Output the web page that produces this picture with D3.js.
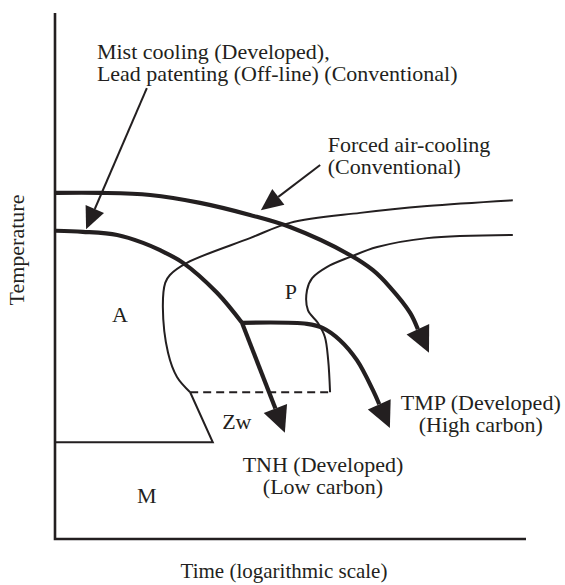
<!DOCTYPE html>
<html>
<head>
<script src="https://d3js.org/d3.v7.min.js"></script>
<style>
	body, html {
		margin: 0;
		padding: 0;
		background: #fff;
	}
	text {
		font-family: "Liberation Serif", "Times New Roman", serif;
		font-size: 22px;
		fill: #231f20;
	}
	.axis-line {
		stroke: #231f20;
		stroke-width: 2.6;
		fill: none;
	}
	.thick {
		stroke: #231f20;
		stroke-width: 4.2;
		fill: none;
	}
	.thin {
		stroke: #231f20;
		stroke-width: 2;
		fill: none;
	}
	.head {
		fill: #231f20;
	}
</style>
</head>
<body>
<script>
	// schematic CCT diagram, both axes in arbitrary units 0..100
	// cooling paths (thick lines) - last point is the arrow tip
	var forcedAir = [[0.2,65.8],[9.6,65.8],[20.2,65.4],[30.8,63.9],[41.4,61.6],[49.9,59.3],
		[62.6,54.0],[67.5,51.1],[71.1,47.9],[75.4,43.0],[79.4,35.4]];
	var mistCooling = [[0.2,58.6],[5.9,58.4],[13.2,57.8],[18.7,56.3],[22.3,54.9],[27.2,52.5],
		[34.4,46.8],[39.7,41.1]];
	var tnhPath = [[39.7,41.1],[48.8,20.2]];
	var tmpPath = [[39.7,41.1],[53.5,40.9],[56.9,40.1],[60.5,37.8],[64.1,34.0],[67.5,28.3],[71.1,21.1]];

	// transformation lines (thin)
	var pearliteStart = [[97.2,64.4],[79.0,63.3],[64.8,62.0],[49.9,60.1],[41.4,57.2],[28.0,52.5],
		[24.4,50.2],[23.4,48.7],[22.9,44.1],[24.0,35.4],[25.9,30.8],[28.7,27.9]];
	var bainiteNose = [[28.7,27.9],[33.5,18.4],[0,18.4]];
	var pearliteEnd = [[97.2,57.8],[79.0,57.2],[68.4,55.5],[62.6,53.6],[57.7,51.7],[54.6,49.6],
		[53.5,47.3],[53.7,43.5],[55.8,41.1],[57.3,38.4],[58.0,34.0],[58.4,27.9]];
	var dashedLine = [[28.7,27.9],[58.4,27.9]];

	// label leaders: [from, to]
	var mistLeader = [[19.5,85.7],[6.6,58.9]];
	var forcedLeader = [[56.3,71.1],[43.7,62.5]];

	// text labels
	var mistLabel = ["Mist cooling (Developed),", "Lead patenting (Off-line) (Conventional)"];
	var forcedLabel = ["Forced air-cooling", "(Conventional)"];
	var tnhLabel = ["TNH (Developed)", "(Low carbon)"];
	var tmpLabel = ["TMP (Developed)", "(High carbon)"];
	var phaseLabels = ["A", "P", "Zw", "M"];
	var xTitle = "Time (logarithmic scale)";
	var yTitle = "Temperature";

	var w = 565, h = 585;
	var margin = {top: 13, right: 39, bottom: 46, left: 55};

	var x = d3.scaleLinear().domain([0, 100]).range([margin.left, w - margin.right]);
	var y = d3.scaleLinear().domain([0, 100]).range([h - margin.bottom, margin.top]);

	var svg = d3.select("body").append("svg")
		.attr("width", w)
		.attr("height", h);

	var smooth = d3.line()
		.x(function(d){ return x(d[0]); })
		.y(function(d){ return y(d[1]); })
		.curve(d3.curveCatmullRom.alpha(0.5));
	var straight = d3.line()
		.x(function(d){ return x(d[0]); })
		.y(function(d){ return y(d[1]); });

	// axes: plain lines, no ticks
	svg.append("path").attr("class", "axis-line")
		.attr("d", straight([[0,100],[0,0],[100,0]]));

	// draw a path whose last point is an arrow tip
	function arrow(pts, cls, gen, len, half){
		var n = pts.length;
		var tx = x(pts[n-1][0]), ty = y(pts[n-1][1]);
		var px = x(pts[n-2][0]), py = y(pts[n-2][1]);
		var dx = tx - px, dy = ty - py, d = Math.sqrt(dx*dx + dy*dy);
		var ux = dx/d, uy = dy/d;
		var bx = tx - ux*len, by = ty - uy*len;
		var trimmed = pts.slice(0, n-1).concat([[x.invert(bx), y.invert(by)]]);
		svg.append("path").attr("class", cls).attr("d", gen(trimmed));
		svg.append("path").attr("class", "head")
			.attr("d", "M" + tx + "," + ty +
				"L" + (bx - uy*half) + "," + (by + ux*half) +
				"L" + (bx + uy*half) + "," + (by - ux*half) + "Z");
	}

	// thin transformation curves
	svg.append("path").attr("class", "thin").attr("d", smooth(pearliteStart));
	svg.append("path").attr("class", "thin").attr("d", straight(bainiteNose));
	svg.append("path").attr("class", "thin").attr("d", smooth(pearliteEnd));
	svg.append("path").attr("class", "thin")
		.attr("stroke-dasharray", "8,5")
		.attr("d", straight(dashedLine));

	// cooling paths
	svg.append("path").attr("class", "thick").attr("d", smooth(mistCooling));
	arrow(forcedAir, "thick", smooth, 26, 12.5);
	arrow(tnhPath, "thick", straight, 26, 12.5);
	arrow(tmpPath, "thick", smooth, 26, 12.5);

	// leader arrows
	arrow(mistLeader, "thin", straight, 22, 10);
	arrow(forcedLeader, "thin", straight, 22, 10);

	// labels, one text per line
	function block(lines, px, py, anchor){
		svg.selectAll(null).data(lines).enter().append("text")
			.attr("x", px)
			.attr("y", function(d,i){ return py + i*22; })
			.attr("text-anchor", anchor)
			.text(function(d){ return d; });
	}
	block(mistLabel, x(8.9), y(91.3), "start");
	block(forcedLabel, x(57.9), y(73.5), "start");
	block(tnhLabel, x(56.9), y(12.7), "middle");
	block(tmpLabel, x(90.4), y(24.5), "middle");

	var phasePos = [[13.8,41.3],[50.1,45.6],[38.6,20.9],[19.5,6.8]];
	svg.selectAll(".phase").data(phaseLabels).enter().append("text")
		.attr("class", "phase")
		.attr("x", function(d,i){ return x(phasePos[i][0]); })
		.attr("y", function(d,i){ return y(phasePos[i][1]); })
		.attr("text-anchor", "middle")
		.text(function(d){ return d; });

	svg.append("text")
		.attr("x", 284).attr("y", 578)
		.attr("text-anchor", "middle")
		.style("font-size", "21px")
		.text(xTitle);
	svg.append("text")
		.attr("transform", "translate(24,250) rotate(-90)")
		.attr("text-anchor", "middle")
		.text(yTitle);
</script>
</body>
</html>
